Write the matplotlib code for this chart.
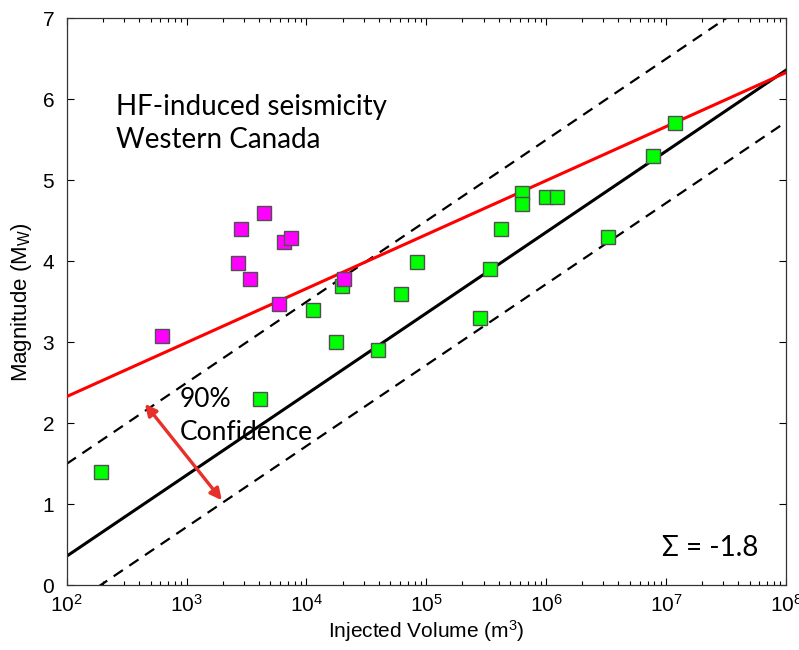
import numpy as np
import matplotlib
matplotlib.use("Agg")
import matplotlib.pyplot as plt
from matplotlib.ticker import LogLocator, FixedLocator

plt.rcParams['font.family'] = ['Liberation Sans', 'DejaVu Sans']
plt.rcParams['mathtext.default'] = 'regular'

# Green: HF-induced events (volume m^3, magnitude)
green_vol = [195, 4100, 11300, 17500, 19800, 39500, 61400, 83600,
             280000, 339000, 419000, 627000, 627000, 993000, 1230000,
             3270000, 7740000, 11800000]
green_mag = [1.40, 2.30, 3.40, 3.00, 3.70, 2.90, 3.60, 3.99,
             3.30, 3.90, 4.40, 4.84, 4.71, 4.79, 4.79,
             4.30, 5.30, 5.71]

# Magenta events
mag_vol = [624, 4400, 2840, 2690, 3380, 6490, 7430, 5900, 20600]
mag_mag = [3.08, 4.60, 4.40, 3.98, 3.78, 4.24, 4.29, 3.47, 3.78]

# Model lines: M = slope*log10(V) + intercept
line_vol = [1e2, 1e8]
red_slope, red_icpt = 2.0 / 3.0, 0.997
black_slope, black_icpt = 1.0, -1.64
upper_slope, upper_icpt = 1.0, -0.50
lower_slope, lower_icpt = 1.0, -2.28

x_ticks = [1e2, 1e3, 1e4, 1e5, 1e6, 1e7, 1e8]
y_ticks = [0, 1, 2, 3, 4, 5, 6, 7]

fig = plt.figure(figsize=(7.99, 6.5), dpi=100)
ax = fig.add_axes([0.0835, 0.0995, 0.9002, 0.8723])

lv = np.array(line_vol)
llog = np.log10(lv)
ax.plot(lv, upper_slope * llog + upper_icpt, color='black', lw=1.6,
        dashes=(5, 3.5), zorder=2)
ax.plot(lv, lower_slope * llog + lower_icpt, color='black', lw=1.6,
        dashes=(5, 3.5), zorder=2)
ax.plot(lv, black_slope * llog + black_icpt, color='black', lw=2.2, zorder=2)
ax.plot(lv, red_slope * llog + red_icpt, color='#ff0000', lw=2.2, zorder=3)

ax.plot(green_vol, green_mag, 's', ms=9.5, mfc='#00ff00', mec='#505050',
        mew=1.0, ls='none', zorder=4)
ax.plot(mag_vol, mag_mag, 's', ms=9.5, mfc='#ff00ff', mec='#505050',
        mew=1.0, ls='none', zorder=5)

ax.set_xscale('log')
ax.set_xlim(1e2, 1e8)
ax.set_ylim(0, 7)
ax.xaxis.set_major_locator(FixedLocator(x_ticks))
ax.xaxis.set_minor_locator(LogLocator(base=10, subs=np.arange(2, 10), numticks=20))
ax.yaxis.set_major_locator(FixedLocator(y_ticks))
ax.tick_params(which='both', direction='in', top=True, right=True,
               labelsize=15)
ax.tick_params(axis='y', pad=9)
ax.tick_params(axis='x', pad=6)
ax.tick_params(which='major', length=5, width=0.8)
ax.tick_params(which='minor', length=3, width=0.8)
for s in ax.spines.values():
    s.set_linewidth(0.9)
    s.set_color('#333333')

ax.set_xlabel('Injected Volume (m$^3$)', fontsize=15, labelpad=2)
ax.set_ylabel('Magnitude (M$_W$)', fontsize=16, labelpad=6)

tfont = ['Lato', 'DejaVu Sans']
ax.text(0.069, 0.814, 'HF-induced seismicity\nWestern Canada',
        transform=ax.transAxes, fontsize=20, family=tfont, va='center',
        ha='left', linespacing=1.35)
ax.text(881, 2.09, '90%\nConfidence', fontsize=19, family=tfont,
        va='center', ha='left', linespacing=1.42, zorder=6)
ax.text(0.828, 0.066, '\u03a3 = -1.8', transform=ax.transAxes, fontsize=20,
        family=tfont, ha='left', va='center')

ax.annotate('', xy=(450, 2.24), xytext=(1970, 1.05),
            arrowprops=dict(arrowstyle='<|-|>', color='#e8302a', lw=2.4,
                            mutation_scale=17, shrinkA=0, shrinkB=0),
            zorder=6)

fig.savefig('out.png', dpi=100)
